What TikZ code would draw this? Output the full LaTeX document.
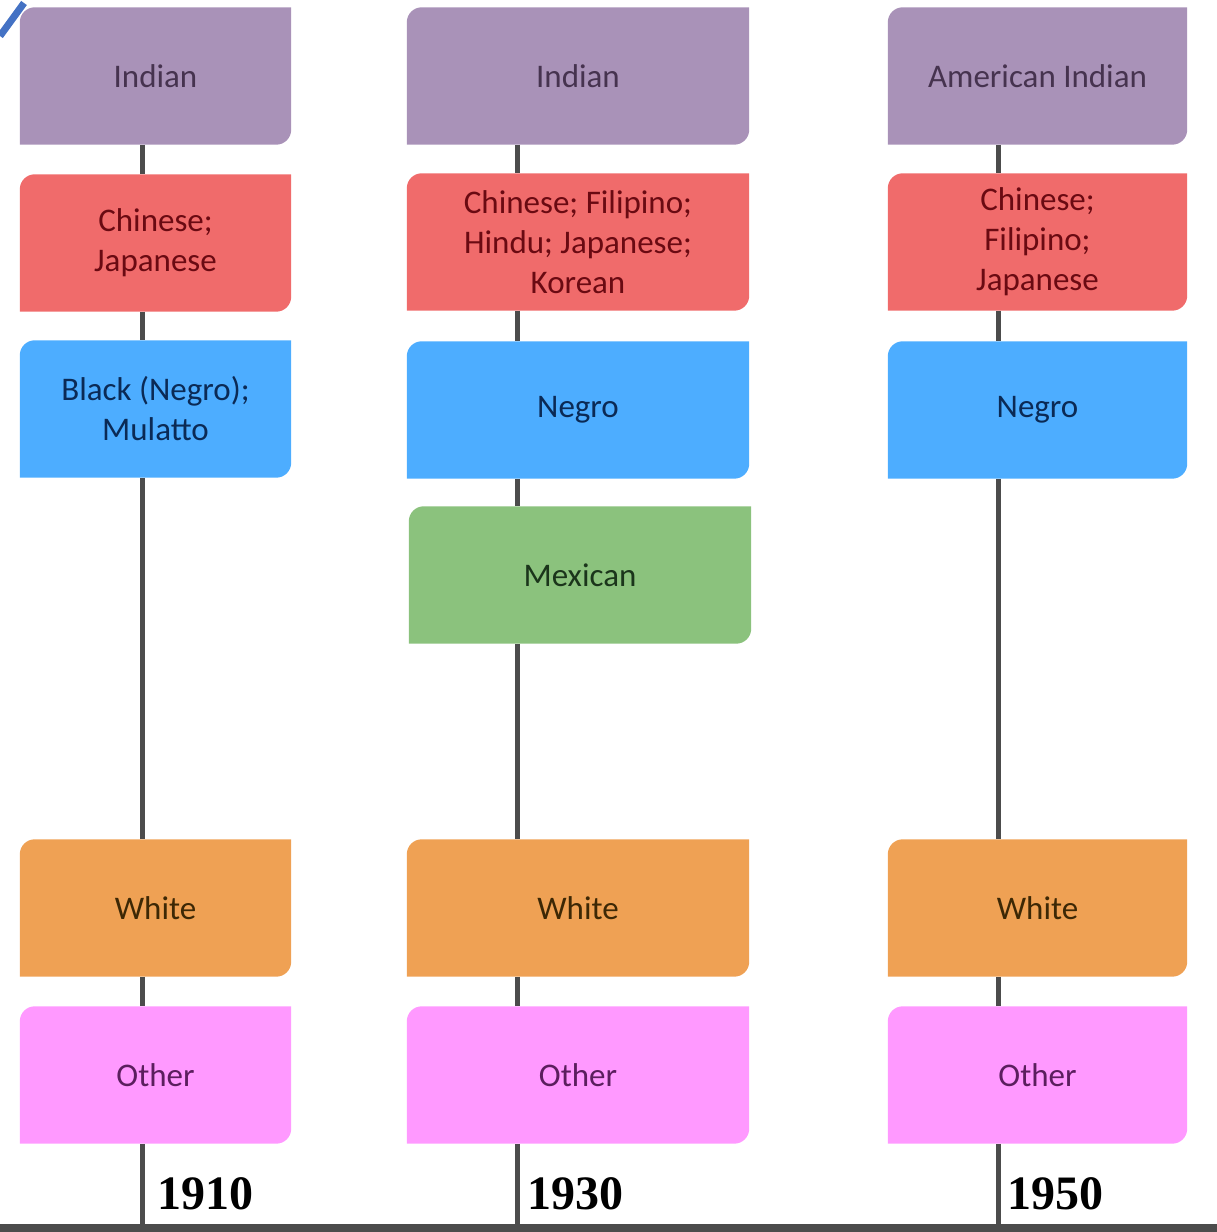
\documentclass[tikz,border=0pt]{standalone}
\usepackage{fontspec}
\setmainfont{Carlito}
\newfontfamily\yearfont{Liberation Serif}
\usetikzlibrary{backgrounds}
\definecolor{cPur}{HTML}{A992B8}\definecolor{tPur}{HTML}{46334F}
\definecolor{cRed}{HTML}{F06B6B}\definecolor{tRed}{HTML}{6A0A12}
\definecolor{cBlu}{HTML}{4DADFF}\definecolor{tBlu}{HTML}{0B2A55}
\definecolor{cGrn}{HTML}{8BC27D}\definecolor{tGrn}{HTML}{1B351B}
\definecolor{cOrg}{HTML}{EFA154}\definecolor{tOrg}{HTML}{3D2805}
\definecolor{cPnk}{HTML}{FF99FF}\definecolor{tPnk}{HTML}{5B1E5E}
\definecolor{axisgray}{HTML}{4C4C4C}
\definecolor{slash}{HTML}{4472C4}
\tikzset{
  lbl/.style={align=center, font=\fontsize{33}{40}\selectfont, inner sep=0pt, minimum height=137pt},
  colA/.style={lbl, minimum width=271pt},
  colB/.style={lbl, minimum width=342pt},
  colC/.style={lbl, minimum width=299pt},
  conn/.style={draw=axisgray, line width=5pt},
  yearlbl/.style={anchor=base west, inner sep=0pt, font=\yearfont\bfseries\fontsize{48}{50}\selectfont},
}
\newcommand\rcbox[2]{\fill[#2] (#1.south west) -- ([yshift=-15pt]#1.north west) arc[start angle=180,end angle=90,radius=15pt] -- (#1.north east) -- ([yshift=15pt]#1.south east) arc[start angle=0,end angle=-90,radius=15pt] -- cycle;}
\begin{document}
\begin{tikzpicture}[x=1pt,y=1pt]
\useasboundingbox (0,0) rectangle (1217,1232);
% column 1 (1910)
\node[colA, text=tPur] (a1) at (155.5,1156) {Indian};
\node[colA, text=tRed] (a2) at (155.5,989) {Chinese;\\Japanese};
\node[colA, text=tBlu] (a3) at (155.5,823) {Black (Negro);\\Mulatto};
\node[colA, text=tOrg] (a5) at (155.5,324) {White};
\node[colA, text=tPnk] (a6) at (155.5,157) {Other};
% column 2 (1930)
\node[colB, text=tPur] (b1) at (578,1156) {Indian};
\node[colB, text=tRed] (b2) at (578,990) {Chinese; Filipino;\\Hindu; Japanese;\\Korean};
\node[colB, text=tBlu] (b3) at (578,822) {Negro};
\node[colB, text=tGrn] (b4) at (580,657) {Mexican};
\node[colB, text=tOrg] (b5) at (578,324) {White};
\node[colB, text=tPnk] (b6) at (578,157) {Other};
% column 3 (1950)
\node[colC, text=tPur] (c1) at (1037.5,1156) {American Indian};
\node[colC, text=tRed] (c2) at (1037.5,990) {Chinese;\\Filipino;\\Japanese};
\node[colC, text=tBlu] (c3) at (1037.5,822) {Negro};
\node[colC, text=tOrg] (c5) at (1037.5,324) {White};
\node[colC, text=tPnk] (c6) at (1037.5,157) {Other};
% axis and years
\coordinate (axL) at (0,4);
\coordinate (axR) at (1217,4);
\coordinate (la) at (142,4);
\coordinate (lb) at (517,4);
\coordinate (lc) at (998,4);
\node[yearlbl] (y1) at (157,22) {1910};
\node[yearlbl] (y2) at (527,22) {1930};
\node[yearlbl] (y3) at (1007,22) {1950};
\coordinate (s1) at (0,1196);
\coordinate (s2) at (24,1229);
\begin{pgfonlayer}{background}
  \draw[conn] (a1.south -| la) -- (a2.north -| la);
  \draw[conn] (a2.south -| la) -- (a3.north -| la);
  \draw[conn] (a3.south -| la) -- (a5.north -| la);
  \draw[conn] (a5.south -| la) -- (a6.north -| la);
  \draw[conn] (a6.south -| la) -- (la);
  \draw[conn] (b1.south -| lb) -- (b2.north -| lb);
  \draw[conn] (b2.south -| lb) -- (b3.north -| lb);
  \draw[conn] (b3.south -| lb) -- (b4.north -| lb);
  \draw[conn] (b4.south -| lb) -- (b5.north -| lb);
  \draw[conn] (b5.south -| lb) -- (b6.north -| lb);
  \draw[conn] (b6.south -| lb) -- (lb);
  \draw[conn] (c1.south -| lc) -- (c2.north -| lc);
  \draw[conn] (c2.south -| lc) -- (c3.north -| lc);
  \draw[conn] (c3.south -| lc) -- (c5.north -| lc);
  \draw[conn] (c5.south -| lc) -- (c6.north -| lc);
  \draw[conn] (c6.south -| lc) -- (lc);
  \draw[axisgray, line width=8pt] (axL) -- (axR);
  \draw[slash, line width=7pt] (s1) -- (s2);
  \rcbox{a1}{cPur}\rcbox{a2}{cRed}\rcbox{a3}{cBlu}\rcbox{a5}{cOrg}\rcbox{a6}{cPnk}
  \rcbox{b1}{cPur}\rcbox{b2}{cRed}\rcbox{b3}{cBlu}\rcbox{b4}{cGrn}\rcbox{b5}{cOrg}\rcbox{b6}{cPnk}
  \rcbox{c1}{cPur}\rcbox{c2}{cRed}\rcbox{c3}{cBlu}\rcbox{c5}{cOrg}\rcbox{c6}{cPnk}
\end{pgfonlayer}
\end{tikzpicture}
\end{document}
